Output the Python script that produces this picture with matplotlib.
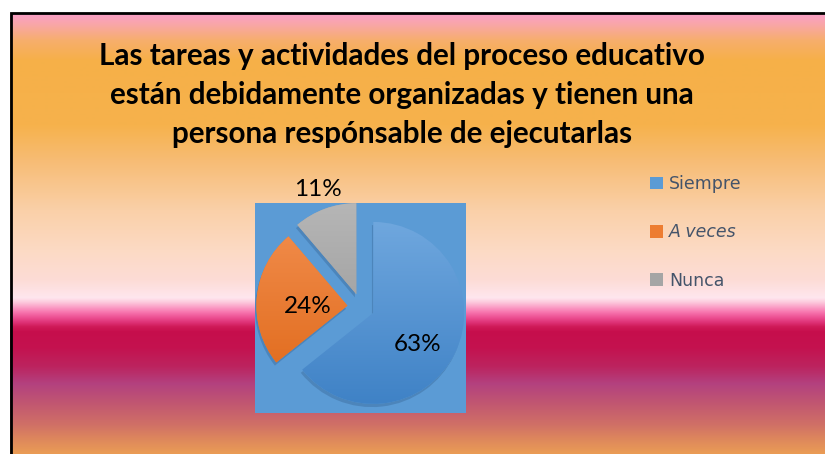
import numpy as np
import matplotlib
matplotlib.use('Agg')
import matplotlib.pyplot as plt
from matplotlib.patches import Wedge
from matplotlib.colors import to_rgb

# data
categories = ['Siempre', 'A veces', 'Nunca']
values = [63, 24, 11]
title_lines = ['Las tareas y actividades del proceso educativo',
               'están debidamente organizadas y tienen una',
               'persona respónsable de ejecutarlas']

# colours (top, bottom) for each slice
grad = [('#6FA7DE', '#3F82C6'), ('#F28E4E', '#DF6818'), ('#B6B6B6', '#959595')]
flat = ['#5B9BD5', '#ED7D31', '#A5A5A5']

W, H = 825, 454
fig = plt.figure(figsize=(W / 100, H / 100), dpi=100)
fig.patch.set_facecolor('white')

# background gradient
bg_stops = [(13, '#F99FC9'), (24, '#F9A6A8'), (40, '#F7AE6C'), (60, '#F6B048'),
            (125, '#F6B24C'), (160, '#F7BC74'), (210, '#FAD0A8'), (250, '#FCDAC4'),
            (280, '#FDDCD6'), (298, '#FFE6EE'), (302, '#FDCCDE'), (307, '#FBA2C8'),
            (312, '#F878B0'), (317, '#EE5496'), (322, '#E0357A'), (327, '#CF1A58'),
            (332, '#C60E4C'), (348, '#C4124F'), (367, '#BC245F'), (384, '#B3417F'),
            (405, '#C25870'), (425, '#D07066'), (440, '#DE885C'), (454, '#EA9C55')]
ys = np.arange(13, H + 1)
sy = [s[0] for s in bg_stops]
cols = np.array([to_rgb(s[1]) for s in bg_stops])
img = np.stack([np.interp(ys, sy, cols[:, k]) for k in range(3)], axis=-1)[:, None, :]

bg = fig.add_axes([0, 0, 1, 1])
bg.set_xlim(0, W)
bg.set_ylim(H, 0)
bg.axis('off')
bg.imshow(img, extent=(10, W, H, 13), aspect='auto', interpolation='bilinear')
bg.plot([10.5, 10.5, W], [H, 12.5, 12.5], color='black', lw=2.0, solid_joinstyle='miter')

# title
for i, line in enumerate(title_lines):
    fig.text(402 / W, 1 - (65 + 39 * i) / H, line, ha='center', va='baseline',
             fontsize=21.3, fontweight='bold', family='Lato', color='black')

# pie area (blue square)
ax = fig.add_axes([255 / W, 1 - 413 / H, 211 / W, 210 / H])
wedges, _ = ax.pie(values, colors=flat, startangle=90, counterclock=False,
                   explode=[0.15] * 3, radius=1, wedgeprops=dict(linewidth=0))
ax.set_frame_on(True)
ax.patch.set_visible(True)
ax.set_facecolor('#5B9BD5')
for s in ax.spines.values():
    s.set_visible(False)
ax.set_xticks([])
ax.set_yticks([])
ax.set_aspect('auto')

# shadows and gradients
for w, (top, bot) in zip(wedges, grad):
    cx, cy = w.center
    sh = Wedge((cx - 0.015, cy - 0.035), w.r, w.theta1, w.theta2,
               facecolor='#22446E', alpha=0.25, linewidth=0, zorder=0.5)
    ax.add_patch(sh)
    g = np.linspace(0, 1, 256)[:, None]
    c = np.array(to_rgb(top)) * (1 - g[..., None]) + np.array(to_rgb(bot)) * g[..., None]
    im = ax.imshow(c, extent=(cx - 1, cx + 1, cy - 1, cy + 1), origin='upper',
                   aspect='auto', zorder=1.5, interpolation='bilinear')
    im.set_clip_path(w)
    w.set_zorder(1)
ax.set_xlim(-1.165, 1.154)
ax.set_ylim(-1.165, 1.143)

# percentage labels (distance measured from each exploded slice's centre)
lab_dist = [0.60, 0.44, 1.23]
lab_shift = [-10, 6, 0]
for w, v, d, sh in zip(wedges, values, lab_dist, lab_shift):
    cx, cy = w.center
    ang = np.deg2rad((w.theta1 + w.theta2) / 2 + sh)
    ax.text(cx + d * np.cos(ang), cy + d * np.sin(ang), f'{v}%', ha='center',
            va='center', fontsize=17.5, family='Lato', color='black', zorder=3,
            clip_on=False)

# legend
leg = fig.legend(wedges, categories, loc='upper left',
                 bbox_to_anchor=(650 / W, 1 - 175 / H), frameon=False,
                 fontsize=12.5, handlelength=0.75, handleheight=0.75,
                 handletextpad=0.35, labelspacing=1.75, borderpad=0,
                 borderaxespad=0)
for t in leg.get_texts():
    t.set_color('#44546A')
leg.get_texts()[1].set_style('italic')

fig.savefig('out.png', dpi=100)
